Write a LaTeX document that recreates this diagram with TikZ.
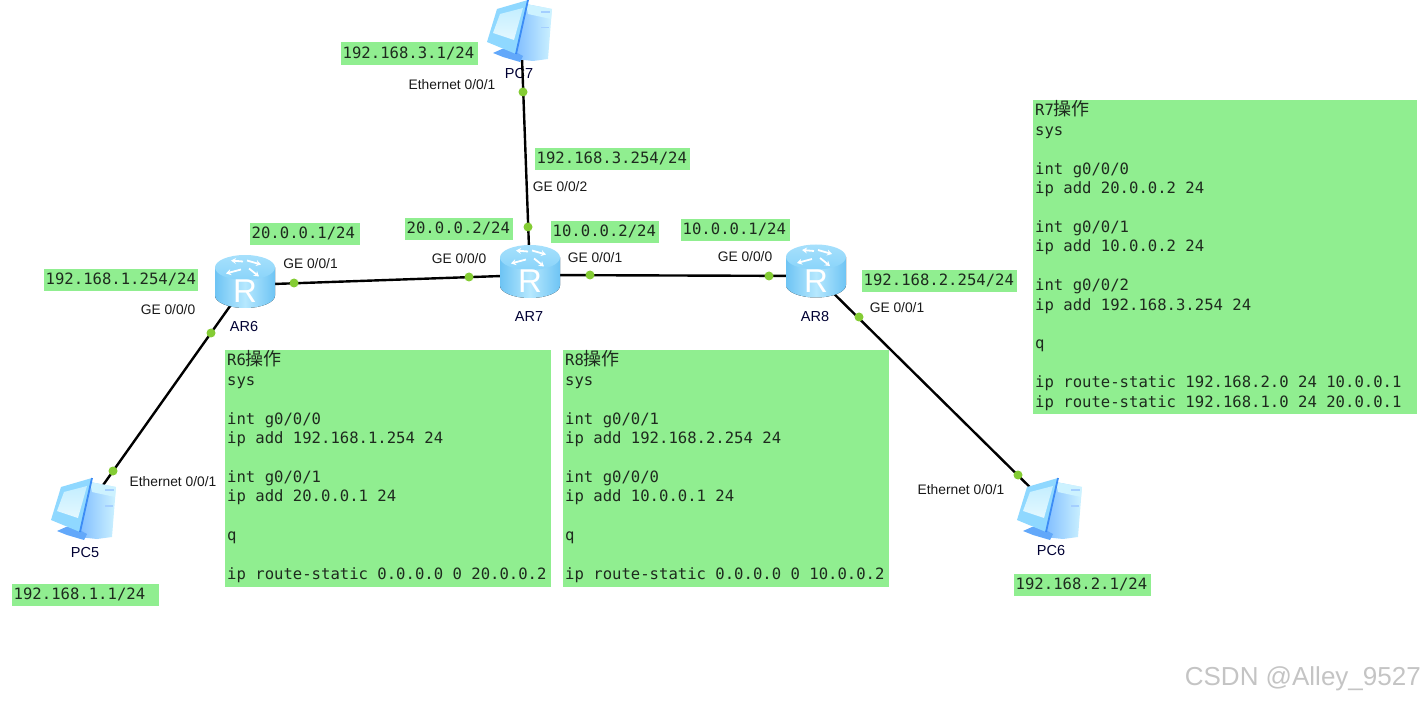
\documentclass[tikz,border=0pt]{standalone}
\usepackage{fontspec}
\setmainfont{Liberation Sans}
\setmonofont{DejaVu Sans Mono}
\newfontfamily\cjkfont{Noto Sans CJK SC}
\usetikzlibrary{arrows.meta}
\definecolor{boxgreen}{HTML}{90EE90}
\definecolor{dotgreen}{HTML}{84CC34}
\definecolor{textdark}{HTML}{1E2A1E}
\definecolor{wmgray}{HTML}{C4C4C4}
\definecolor{rtop}{HTML}{A6E0FC}
\definecolor{rtopb}{HTML}{8AD4FA}
\definecolor{rside}{HTML}{6EC4F4}
\definecolor{rmid}{HTML}{B6E8FE}
\definecolor{pcframe}{HTML}{8FD8FF}
\definecolor{pcscreena}{HTML}{C4EEFF}
\definecolor{pcscreenb}{HTML}{E4F8FF}
\definecolor{pcedge}{HTML}{3C8CF5}
\definecolor{pctowerl}{HTML}{7DBBFF}
\definecolor{pctowerr}{HTML}{CDF2FF}
\definecolor{pcbase}{HTML}{62A8FA}
\tikzset{
  x=1pt,y=-1pt,
  anchorpt/.style={inner sep=0pt,minimum size=1pt},
  link/.style={draw=black,line width=2.4pt},
  ifdot/.style={circle,fill=dotgreen,inner sep=0pt,minimum size=9pt},
  portlabel/.style={font=\fontsize{13.8}{15}\selectfont,text=black!90,inner sep=0pt},
  devlabel/.style={font=\fontsize{14.5}{16}\selectfont,text=black!80!blue,inner sep=0pt},
  cmdtext/.style={anchor=north west,inner sep=0pt,text=textdark,align=left,
    font=\ttfamily\fontsize{15.6}{19.4}\selectfont},
  router/.pic={
    \fill[left color=rside,right color=rside,middle color=rmid]
      (-30,-14) -- (-30,14) arc[start angle=180,end angle=360,x radius=30pt,y radius=12.5pt] -- (30,-14) -- cycle;
    \shade[top color=rtop,bottom color=rtopb] (0,-14) ellipse [x radius=30pt,y radius=12.5pt];
    \draw[white,line width=1.8pt,-{Stealth[length=5pt,width=6pt]}] (-2,-20) -- (-14,-21);
    \draw[white,line width=1.8pt,-{Stealth[length=5pt,width=6pt]}] (2,-21) -- (16,-17);
    \draw[white,line width=1.8pt,-{Stealth[length=5pt,width=6pt]}] (-4,-12) -- (-19,-8);
    \draw[white,line width=1.8pt,-{Stealth[length=5pt,width=6pt]}] (4,-13) -- (14,-5);
    \node[inner sep=0pt,text=white,font=\fontsize{33}{33}\selectfont] (-R) at (0,10) {R};
  },
  pcicon/.pic={
    \shade[left color=pctowerl,right color=pctowerr]
      (-6,28) -- (6,-27) -- (32,-22) -- (28,28) -- (13,30) -- cycle;
    \fill[pctowerr] (6,-27) -- (32,-22) -- (31,-12) -- (8,-17) -- cycle;
    \fill[pcbase] (-27,22) -- (-18,18) -- (-10,18) -- (3,25) -- (0,31) -- (-17,26) -- cycle;
    \fill[pcframe] (-23,-22) -- (8,-31) -- (-4,23) -- (-33,11) -- cycle;
    \shade[top color=pcscreena,bottom color=pcscreenb] (-20,-17) -- (3,-23) -- (-6,9) -- (-27,2) -- cycle;
    \draw[pcedge,line width=1.8pt] (8,-31) -- (-4,23);
    \fill[pctowerl!70!white] (21,-20) rectangle (30,-18);
    \fill[pctowerl!70!white] (21,-4) rectangle (29,-2.5);
  }
}
\begin{document}
\begin{tikzpicture}
\useasboundingbox (0,0) rectangle (1425,703);

% device labels sit under the links
\node[devlabel] (lar6) at (244,327) {AR6};
\node[devlabel] (lar7) at (529,317) {AR7};
\node[devlabel] (lar8) at (815,317) {AR8};
\node[devlabel] (lpc5) at (85,553) {PC5};
\node[devlabel] (lpc6) at (1051,551) {PC6};
\node[devlabel] (lpc7) at (519,74) {PC7};

% device anchors
\node[anchorpt] (ar6) at (245,285) {};
\node[anchorpt] (ar7) at (530,275) {};
\node[anchorpt] (ar8) at (816,276) {};
\node[anchorpt] (pc5) at (84,512) {};
\node[anchorpt] (pc6) at (1050,507) {};
\node[anchorpt] (pc7) at (521,31) {};

% links
\draw[link] (ar6.center) -- (ar7.center);
\draw[link] (ar7.center) -- (ar8.center);
\draw[link] (ar7.center) -- (pc7.center);
\draw[link] (ar6.center) -- (pc5.center);
\draw[link] (ar8.center) -- (pc6.center);

% icons
\pic (iar6) at (245,281.5) {router};
\pic (iar7) at (530,271.5) {router};
\pic (iar8) at (816,271) {router};
\pic (ipc5) at (84,509) {pcicon};
\pic (ipc6) at (1050,509) {pcicon};
\pic (ipc7) at (520,31) {pcicon};

% interface dots
\node[ifdot] (d1) at (294,283) {};
\node[ifdot] (d2) at (469,277) {};
\node[ifdot] (d3) at (590,275) {};
\node[ifdot] (d4) at (769,276) {};
\node[ifdot] (d5) at (523,92) {};
\node[ifdot] (d6) at (528,227) {};
\node[ifdot] (d7) at (211,333) {};
\node[ifdot] (d8) at (113,471) {};
\node[ifdot] (d9) at (859,317) {};
\node[ifdot] (d10) at (1018,475) {};

% port labels
\node[portlabel] (p1) at (310.5,264) {GE 0/0/1};
\node[portlabel] (p2) at (459,259) {GE 0/0/0};
\node[portlabel] (p3) at (595,258) {GE 0/0/1};
\node[portlabel] (p4) at (745,257) {GE 0/0/0};
\node[portlabel] (p5) at (168,310) {GE 0/0/0};
\node[portlabel] (p6) at (897,308) {GE 0/0/1};
\node[portlabel] (p7) at (560,187) {GE 0/0/2};
\node[portlabel] (p8) at (452,85) {Ethernet 0/0/1};
\node[portlabel] (p9) at (173,482) {Ethernet 0/0/1};
\node[portlabel] (p10) at (961,490) {Ethernet 0/0/1};

% address tags
\newcommand{\addrtag}[6]{%
  \fill[boxgreen] (#2,#3) rectangle (#4,#5);
  \node[cmdtext,anchor=west,font=\ttfamily\fontsize{15.6}{18}\selectfont] (#1) at ({#2+1.5},{(#3+#5)/2-0.5}) {#6};}
\addrtag{a1}{341}{42}{478}{65}{192.168.3.1/24}
\addrtag{a2}{535}{148}{690}{170}{192.168.3.254/24}
\addrtag{a3}{405}{218}{513}{240}{20.0.0.2/24}
\addrtag{a4}{551}{221}{659}{243}{10.0.0.2/24}
\addrtag{a5}{681}{219}{790}{241}{10.0.0.1/24}
\addrtag{a6}{250}{223}{360}{245}{20.0.0.1/24}
\addrtag{a7}{44}{269}{198}{291}{192.168.1.254/24}
\addrtag{a8}{862}{270}{1017}{292}{192.168.2.254/24}
\addrtag{a9}{12}{584}{159}{606}{192.168.1.1/24}
\addrtag{a10}{1014}{574}{1151}{596}{192.168.2.1/24}

% command boxes
\fill[boxgreen] (225,350) rectangle (551,587);
\fill[boxgreen] (563,350) rectangle (889,587);
\fill[boxgreen] (1033,100) rectangle (1417,414);

\newcommand{\cmdtitle}[1]{#1{\cjkfont\fontsize{18}{19.4}\selectfont 操作}}
\node[cmdtext] (r6t) at (227,350) {\cmdtitle{R6}};
\node[cmdtext] (r6) at (227,376.5) {sys\\[19.4pt]
int g0/0/0\\
ip add 192.168.1.254 24\\[19.4pt]
int g0/0/1\\
ip add 20.0.0.1 24\\[19.4pt]
q\\[19.4pt]
ip route-static 0.0.0.0 0 20.0.0.2};

\node[cmdtext] (r8t) at (565,350) {\cmdtitle{R8}};
\node[cmdtext] (r8) at (565,376.5) {sys\\[19.4pt]
int g0/0/1\\
ip add 192.168.2.254 24\\[19.4pt]
int g0/0/0\\
ip add 10.0.0.1 24\\[19.4pt]
q\\[19.4pt]
ip route-static 0.0.0.0 0 10.0.0.2};

\node[cmdtext] (r7t) at (1035,100) {\cmdtitle{R7}};
\node[cmdtext] (r7) at (1035,126.5) {sys\\[19.4pt]
int g0/0/0\\
ip add 20.0.0.2 24\\[19.4pt]
int g0/0/1\\
ip add 10.0.0.2 24\\[19.4pt]
int g0/0/2\\
ip add 192.168.3.254 24\\[19.4pt]
q\\[19.4pt]
ip route-static 192.168.2.0 24 10.0.0.1\\
ip route-static 192.168.1.0 24 20.0.0.1};

% watermark
\node[inner sep=0pt,text=wmgray,font=\fontsize{26}{28}\selectfont,anchor=east] (wm) at (1421,679) {CSDN @Alley\_9527};
\end{tikzpicture}
\end{document}
